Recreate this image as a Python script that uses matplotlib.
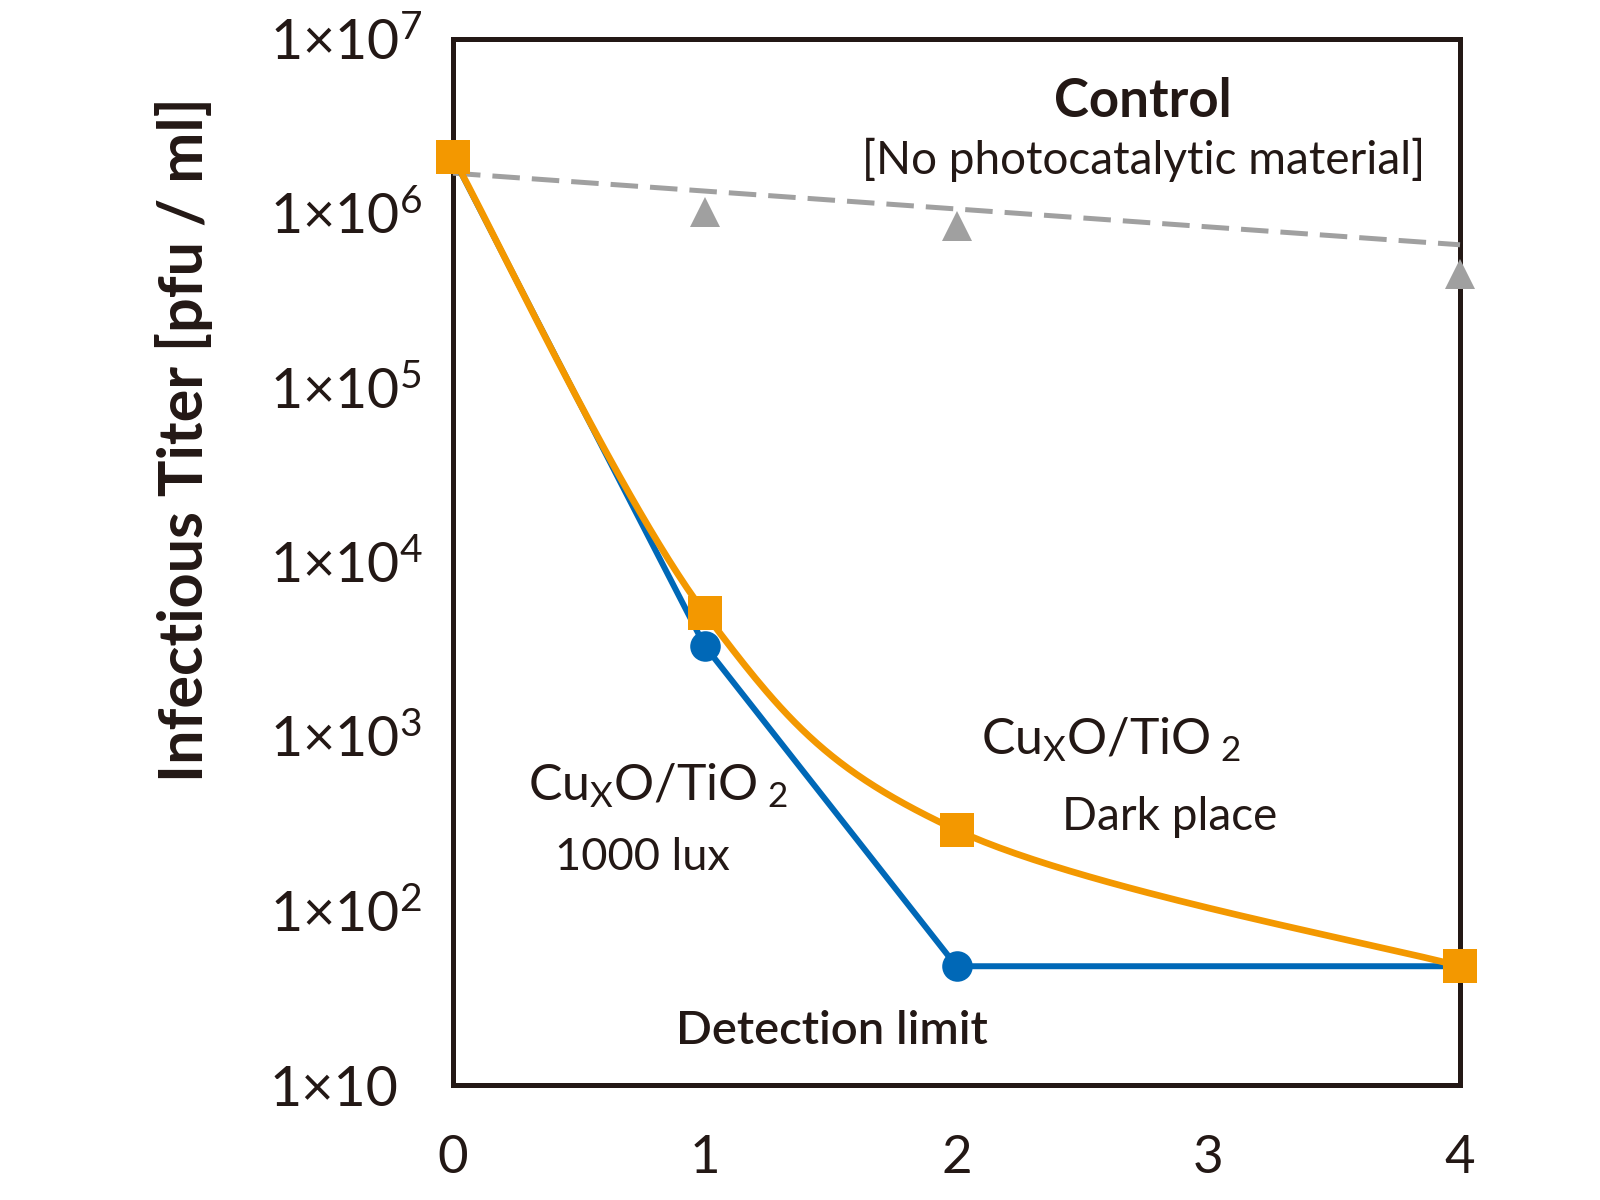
import numpy as np
import matplotlib
matplotlib.use("Agg")
import matplotlib.pyplot as plt
from matplotlib.ticker import FixedLocator, FixedFormatter

# ---------------- data ----------------
days = [0, 1, 2, 4]
dark_place = [2.1e6, 5.1e3, 2.9e2, 48]        # CuxO/TiO2, dark place (orange squares)
lux1000 = [2.1e6, 3.3e3, 48, 48]              # CuxO/TiO2, 1000 lux (blue circles)
control_days = [1, 2, 4]
control = [1.02e6, 8.5e5, 4.5e5]              # control, no photocatalytic material
trend_days = [0, 4]
control_trend = [1.7e6, 6.6e5]                # dashed trend line of control

x_ticks = [0, 1, 2, 3, 4]
x_ticklabels = ["0", "1", "2", "3", "4"]
y_ticks = [1e1, 1e2, 1e3, 1e4, 1e5, 1e6, 1e7]
y_ticklabels = ["1×10", "1×10$^{2}$", "1×10$^{3}$", "1×10$^{4}$",
                "1×10$^{5}$", "1×10$^{6}$", "1×10$^{7}$"]

ylabel = "Infectious Titer [pfu / ml]"

# ---------------- style ----------------
ORANGE = "#F39800"
BLUE = "#0068B7"
GRAY = "#A0A0A0"
BLACK = "#231815"

plt.rcParams["font.family"] = ["Lato", "DejaVu Sans"]
plt.rcParams["mathtext.fontset"] = "custom"
plt.rcParams["mathtext.rm"] = "Lato"
plt.rcParams["mathtext.it"] = "Lato"
plt.rcParams["mathtext.bf"] = "Lato:bold"
plt.rcParams["text.color"] = BLACK

fig = plt.figure(figsize=(16, 12), dpi=100)
ax = fig.add_axes([453 / 1600, 1 - 1085 / 1200, (1460 - 453) / 1600, (1085 - 39) / 1200])
ax.set_yscale("log")
ax.set_xlim(0, 4)
ax.set_ylim(10, 1e7)


def smooth(xs, ys, n=60):
    """Excel-like smoothed line (Bezier with 1/6 tangents) in (x, log y) space."""
    P = np.column_stack([np.asarray(xs, float), np.log10(ys)])
    out = []
    m = len(P)
    for i in range(m - 1):
        p0 = P[i]
        p3 = P[i + 1]
        prev = P[i - 1] if i > 0 else P[i]
        nxt = P[i + 2] if i + 2 < m else P[i + 1]
        c1 = p0 + (p3 - prev) / 6.0
        c2 = p3 - (nxt - p0) / 6.0
        t = np.linspace(0, 1, n)[:, None]
        seg = ((1 - t) ** 3) * p0 + 3 * ((1 - t) ** 2) * t * c1 + 3 * (1 - t) * t ** 2 * c2 + t ** 3 * p3
        out.append(seg if i == 0 else seg[1:])
    seg = np.vstack(out)
    return seg[:, 0], 10 ** seg[:, 1]


# control dashed trend line and triangles
ax.plot(trend_days, control_trend, color=GRAY, lw=3.6, dashes=(5.5, 2.4), zorder=3, clip_on=False)
ax.plot(control_days, control, linestyle="none", marker="^", ms=21, color=GRAY,
        markeredgewidth=0, zorder=6, clip_on=False)

# 1000 lux (blue)
ax.plot(days, lux1000, color=BLUE, lw=4.3, marker="o", ms=22, markeredgewidth=0,
        zorder=4, clip_on=False)

# dark place (orange), smoothed line
sx, sy = smooth(days, dark_place)
ax.plot(sx, sy, color=ORANGE, lw=4.8, zorder=5, clip_on=False, solid_capstyle="round")
ax.plot(days, dark_place, linestyle="none", marker="s", ms=25, color=ORANGE,
        markeredgewidth=0, zorder=7, clip_on=False)

# frame
for s in ax.spines.values():
    s.set_linewidth(3.6)
    s.set_color(BLACK)
    s.set_zorder(2)

# ticks
ax.xaxis.set_major_locator(FixedLocator(x_ticks))
ax.xaxis.set_major_formatter(FixedFormatter(x_ticklabels))
ax.yaxis.set_major_locator(FixedLocator(y_ticks))
ax.yaxis.set_major_formatter(FixedFormatter(y_ticklabels))
ax.yaxis.set_minor_locator(FixedLocator([]))
ax.tick_params(axis="both", length=0, colors=BLACK)
ax.tick_params(axis="x", pad=36, labelsize=38)
ax.tick_params(axis="y", pad=132, labelsize=40)
for lab in ax.get_yticklabels():
    lab.set_horizontalalignment("left")

# annotations
ax.text(0.685, 0.94, "Control", transform=ax.transAxes, ha="center", va="center",
        fontsize=38, fontweight="bold")
ax.text(0.686, 0.884, "[No photocatalytic material]", transform=ax.transAxes,
        ha="center", va="center", fontsize=33)
ax.text(0.204, 0.286, r"Cu$_{\mathrm{X}}$O/TiO$_{\mathrm{\ 2}}$", transform=ax.transAxes,
        ha="center", va="center", fontsize=36)
ax.text(0.188, 0.2176, "1000 lux", transform=ax.transAxes, ha="center", va="center",
        fontsize=32.5)
ax.text(0.654, 0.33, r"Cu$_{\mathrm{X}}$O/TiO$_{\mathrm{\ 2}}$", transform=ax.transAxes,
        ha="center", va="center", fontsize=36)
ax.text(0.712, 0.2566, "Dark place", transform=ax.transAxes, ha="center", va="center",
        fontsize=33)
ax.text(0.376, 0.0517, "Detection limit", transform=ax.transAxes, ha="center", va="center",
        fontsize=34, fontweight="semibold")

fig.text(0.115, 0.634, ylabel, rotation=90, ha="center", va="center",
         fontsize=44, fontweight="bold")

fig.savefig("out.png", dpi=100, facecolor="white")
